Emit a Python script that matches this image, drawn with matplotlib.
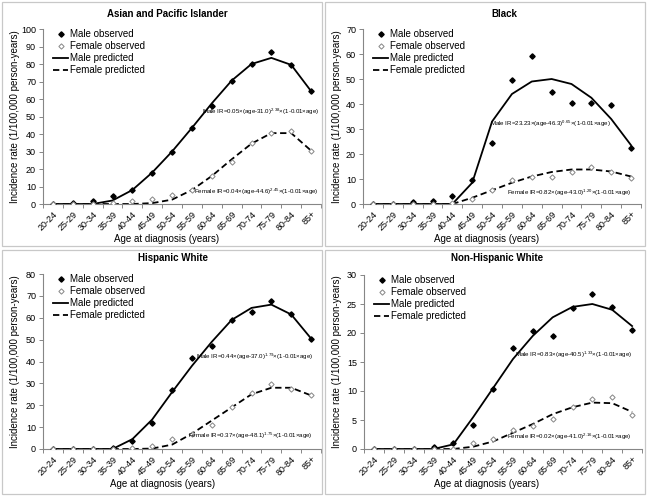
import numpy as np
import matplotlib
matplotlib.use("Agg")
import matplotlib.pyplot as plt
from matplotlib.lines import Line2D
from matplotlib.patches import Rectangle

plt.rcParams['font.family'] = ['Liberation Sans', 'DejaVu Sans']
plt.rcParams['mathtext.default'] = 'regular'

# ----------------------------------------------------------
# data
# ----------------------------------------------------------
ages = ["20-24", "25-29", "30-34", "35-39", "40-44", "45-49", "50-54",
        "55-59", "60-64", "65-69", "70-74", "75-79", "80-84", "85+"]

api_male_obs = [0.2, 0.5, 1.5, 4.5, 8, 18, 30, 43.5, 56, 70.5, 80, 87, 79.5, 64.5]
api_male_pred = [0, 0, 0, 2, 8, 18, 30, 43.5, 57.5, 70.5, 80, 83.5, 79.5, 64.5]
api_female_obs = [0, 0, 0, 0.5, 1.5, 3, 5, 8, 16, 24, 35, 40.5, 42, 30.5]
api_female_pred = [0, 0, 0, 0, 0, 0.5, 2.5, 8, 16, 25.5, 34.5, 40.5, 40.5, 30.5]

blk_male_obs = [0, 0.2, 0.8, 1.3, 3.3, 9.8, 24.5, 49.5, 59.3, 45, 40.5, 40.5, 39.5, 22.5]
blk_male_pred = [0, 0, 0, 0, 0, 8.5, 33, 44, 49, 50, 48, 42.5, 34, 23.5]
blk_female_obs = [0, 0, 0, 0, 0.3, 2, 5.5, 9.5, 11, 11, 13, 15, 13, 10.5]
blk_female_pred = [0, 0, 0, 0, 0, 2.5, 5.5, 8.5, 11, 12.8, 13.8, 13.8, 13, 11]

his_male_obs = [0, 0, 0, 0.5, 3.5, 12, 27, 41.5, 47, 59, 62.5, 67.5, 61.5, 50.5]
his_male_pred = [0, 0, 0, 0, 4.5, 13.5, 26, 38, 49, 59, 64.5, 66, 61.5, 50.5]
his_female_obs = [0, 0, 0, 0, 0.5, 1.5, 4.5, 7, 11, 19, 25.5, 29.5, 27.5, 24.5]
his_female_pred = [0, 0, 0, 0, 0, 0.2, 2, 7, 13, 19, 25, 28, 28, 24.5]

nhw_male_obs = [0, 0, 0, 0.3, 1.0, 4.2, 10.3, 17.5, 20.3, 19.5, 24.3, 26.7, 24.5, 20.6]
nhw_male_pred = [0, 0, 0, 0, 0.8, 5.5, 10.5, 15.5, 19.5, 22.7, 24.5, 25, 24, 21.2]
nhw_female_obs = [0, 0, 0, 0, 0, 1.0, 1.8, 3.2, 4.0, 5.1, 7.3, 8.7, 8.9, 5.9]
nhw_female_pred = [0, 0, 0, 0, 0, 0.4, 1.3, 2.8, 4.3, 6.0, 7.2, 8.0, 7.9, 6.4]

titles = ["Asian and Pacific Islander", "Black", "Hispanic White", "Non-Hispanic White"]
y_max = [100, 70, 80, 30]
y_step = [10, 10, 10, 5]

male_eq = [
    "Male IR=0.05×(age-31.0)$^{2.38}$×(1-0.01×age)",
    "Male IR=23.23×(age-46.3)$^{0.65}$×(1-0.01×age)",
    "Male IR=0.44×(age-37.0)$^{1.79}$×(1-0.01×age)",
    "Male IR=0.83×(age-40.5)$^{1.33}$×(1-0.01×age)",
]
female_eq = [
    "Female IR=0.04×(age-44.6)$^{2.45}$×(1-0.01×age)",
    "Female IR=0.82×(age-43.0)$^{1.20}$×(1-0.01×age)",
    "Female IR=0.37×(age-48.1)$^{1.75}$×(1-0.01×age)",
    "Female IR=0.02×(age-41.0)$^{2.16}$×(1-0.01×age)",
]
# equation anchor (right end x index, y value)
male_eq_pos = [(13.4, 52.5), (12.0, 32), (13.1, 42), (13.0, 16.2)]
female_eq_pos = [(13.4, 6.9), (13.05, 4.6), (13.1, 6.0), (13.0, 2.1)]

panels = [
    (api_male_obs, api_male_pred, api_female_obs, api_female_pred),
    (blk_male_obs, blk_male_pred, blk_female_obs, blk_female_pred),
    (his_male_obs, his_male_pred, his_female_obs, his_female_pred),
    (nhw_male_obs, nhw_male_pred, nhw_female_obs, nhw_female_pred),
]

# ----------------------------------------------------------
# layout in pixels: (axes left, axes right, axes top, axes bottom)
# ----------------------------------------------------------
W, H = 648, 496
ax_px = [(43, 321, 29, 204), (363, 641, 29, 204),
         (43, 321, 274, 449), (364, 642, 275, 449)]
panel_px = [(2, 2, 322, 246), (325, 2, 645, 246),
            (2, 250, 322, 494), (325, 250, 645, 494)]
title_px = [(167, 14), (504, 14), (173, 258), (497, 258)]
xlabel_px = [(167, 234), (487, 234), (163, 479), (487, 479)]
ylabel_px = [20, 342, 20, 342]

fig = plt.figure(figsize=(W / 100, H / 100), dpi=100)

for (x0, y0, x1, y1) in panel_px:
    fig.patches.append(Rectangle((x0 / W, 1 - y1 / H), (x1 - x0) / W, (y1 - y0) / H,
                                 transform=fig.transFigure, fill=False,
                                 edgecolor="#c8c8c8", linewidth=0.9))

x = np.arange(len(ages))
gray = "#868686"
ms = 2.7

for i, (mo, mp, fo, fp) in enumerate(panels):
    l, r, t, b = ax_px[i]
    aw, ah = r - l, b - t
    ax = fig.add_axes([l / W, 1 - b / H, aw / W, ah / H])

    ax.plot(x, mp, color="black", lw=1.3, zorder=2)
    ax.plot(x, fp, color="black", lw=1.3, ls=(0, (3.5, 2)), zorder=2)
    ax.plot(x, mo, ls="none", marker="D", ms=ms, color="black", zorder=3)
    ax.plot(x, fo, ls="none", marker="D", ms=ms, mfc="white", mec=gray,
            mew=0.7, zorder=3)

    ax.set_xlim(-0.5, len(ages) - 0.5)
    ax.set_ylim(0, y_max[i])
    ax.set_yticks(np.arange(0, y_max[i] + 0.1, y_step[i]))
    ax.set_xticks(x)
    ax.set_xticklabels(ages, rotation=45, ha="right", rotation_mode="anchor",
                       fontsize=6.5)
    ax.set_xticks(np.arange(-0.5, len(ages), 1), minor=True)
    ax.tick_params(axis="x", which="major", length=0, pad=4)
    ax.tick_params(axis="x", which="minor", length=3, color=gray, width=0.7)
    ax.tick_params(axis="y", length=3, color=gray, width=0.7, labelsize=6.5, pad=2)

    for s in ["top", "right"]:
        ax.spines[s].set_visible(False)
    for s in ["left", "bottom"]:
        ax.spines[s].set_color(gray)
        ax.spines[s].set_linewidth(0.8)

    ax.set_ylabel("Incidence rate (1/100,000 person-years)", fontsize=7)
    ax.set_xlabel("Age at diagnosis (years)", fontsize=7)
    ax.yaxis.set_label_coords((ylabel_px[i] - l) / aw, 0.5)
    xlx, xly = xlabel_px[i]
    ax.xaxis.set_label_coords((xlx - l) / aw, (b - xly) / ah)

    mx, my = male_eq_pos[i]
    ax.text(mx, my, male_eq[i], fontsize=4.4, ha="right", va="center")
    fx, fy = female_eq_pos[i]
    ax.text(fx, fy, female_eq[i], fontsize=4.4, ha="right", va="center")

    handles = [
        Line2D([], [], ls="none", marker="D", ms=ms, color="black"),
        Line2D([], [], ls="none", marker="D", ms=ms, mfc="white", mec=gray, mew=0.7),
        Line2D([], [], color="black", lw=1.3),
        Line2D([], [], color="black", lw=1.3, ls=(0, (3.5, 2))),
    ]
    labels = ["Male observed", "Female observed", "Male predicted", "Female predicted"]
    ax.legend(handles, labels, loc="upper left", bbox_to_anchor=(0.035, 1.0),
              frameon=False, fontsize=7, handlelength=1.6, handletextpad=0.15,
              labelspacing=0.22, borderaxespad=0.0, borderpad=0.0,
              markerscale=1.0)

    tx, ty = title_px[i]
    fig.text(tx / W, 1 - ty / H, titles[i],
             fontsize=7, fontweight="bold", ha="center", va="center")

fig.savefig("out.png", dpi=100)
